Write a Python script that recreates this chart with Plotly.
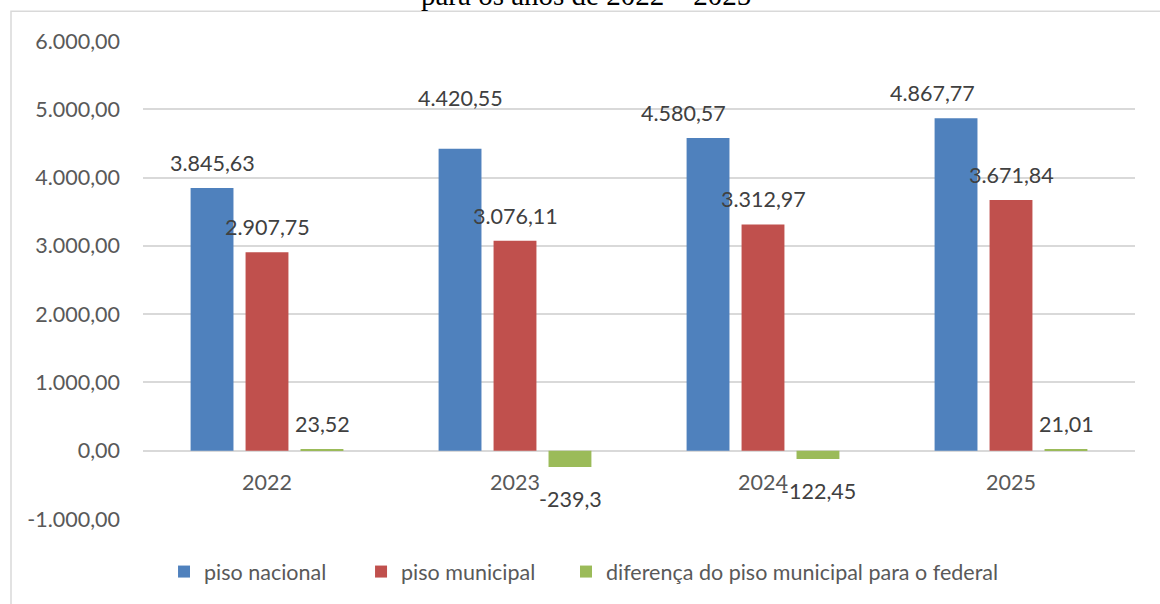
import plotly.graph_objects as go

anos = ["2022", "2023", "2024", "2025"]
piso_nacional = [3845.63, 4420.55, 4580.57, 4867.77]
piso_municipal = [2907.75, 3076.11, 3312.97, 3671.84]
diferenca = [23.52, -239.3, -122.45, 21.01]
y_ticks = [-1000, 0, 1000, 2000, 3000, 4000, 5000, 6000]

FONT = "Lato"
AXIS_GREY = "#595959"
GRID = "#d9d9d9"
FS = 21.5


def fmt_br(v, decimals=None):
    if decimals is None:
        s = f"{v:,.2f}".rstrip("0").rstrip(".")
    else:
        s = f"{v:,.{decimals}f}"
    return s.replace(",", "X").replace(".", ",").replace("X", ".")


series = [
    ("piso nacional", piso_nacional, "#4f81bd"),
    ("piso municipal", piso_municipal, "#c0504d"),
    ("diferença do piso municipal para o federal", diferenca, "#9bbb59"),
]

# labels that were dragged by hand in the original (series index, year) -> (dx, dy)
nudges = {(0, "2023"): (0, 26), (0, "2024"): (-25, 0), (0, "2025"): (-24, 0)}
# one legend box per series so the spacing matches the original
legend_names = ["legend", "legend2", "legend3"]
legend_x = [0.0212, 0.2198, 0.4264]

fig = go.Figure()
annotations = []
for i, (name, values, color) in enumerate(series):
    fig.add_trace(
        go.Bar(
            x=anos,
            y=values,
            name=name,
            legend=legend_names[i],
            marker=dict(color=color, line=dict(width=0)),
        )
    )
    for j, (ano, v) in enumerate(zip(anos, values)):
        dx, dy = nudges.get((i, ano), (0, 0))
        annotations.append(
            dict(
                x=j,
                y=v,
                xref="x",
                yref="y",
                text=fmt_br(v),
                showarrow=False,
                xshift=(i - 1) * 55 + dx,
                yshift=(25 if v >= 0 else -32) + dy,
                font=dict(family=FONT, size=FS, color="#404040"),
            )
        )

annotations.append(
    dict(
        x=0.447,
        y=1,
        xref="paper",
        yref="paper",
        yshift=28,
        text="para os anos de 2022 – 2025",
        showarrow=False,
        yanchor="bottom",
        font=dict(family="Liberation Serif", size=29, color="#000000"),
    )
)

legend_style = dict(
    orientation="h",
    xanchor="left",
    y=-0.11,
    yanchor="middle",
    bgcolor="rgba(0,0,0,0)",
    font=dict(family=FONT, size=FS, color=AXIS_GREY),
)

fig.update_layout(
    width=1160,
    height=604,
    margin=dict(l=143, r=25, t=41, b=82),
    paper_bgcolor="white",
    plot_bgcolor="white",
    separators=",.",
    barmode="group",
    bargap=0.335,
    bargroupgap=0.22,
    font=dict(family=FONT, size=FS, color=AXIS_GREY),
    xaxis=dict(
        type="category",
        range=[-0.5, len(anos) - 0.5],
        anchor="free",
        position=1 / 7,
        showgrid=False,
        showline=False,
        ticks="",
        ticklabelstandoff=17,
        tickfont=dict(family=FONT, size=FS, color=AXIS_GREY),
    ),
    yaxis=dict(
        range=[-1000, 6000],
        tickvals=y_ticks,
        ticktext=[fmt_br(t, 2) for t in y_ticks],
        showgrid=True,
        gridcolor=GRID,
        gridwidth=1.5,
        zeroline=True,
        zerolinecolor=GRID,
        zerolinewidth=2,
        showline=False,
        ticks="",
        ticklabelstandoff=22,
        tickfont=dict(family=FONT, size=FS, color=AXIS_GREY),
    ),
    showlegend=True,
    legend=dict(x=legend_x[0], **legend_style),
    legend2=dict(x=legend_x[1], **legend_style),
    legend3=dict(x=legend_x[2], **legend_style),
    annotations=annotations,
    shapes=[
        dict(
            type="rect",
            xref="paper",
            yref="paper",
            x0=(11 - 143) / 992,
            x1=1.1,
            y0=-0.3,
            y1=(522 - 11) / 481,
            line=dict(color=GRID, width=1.5),
            fillcolor="rgba(0,0,0,0)",
            layer="below",
        )
    ],
)

fig.write_html(
    "out.html",
    config={"displayModeBar": False},
    post_script="document.body.style.margin='0px';",
)
